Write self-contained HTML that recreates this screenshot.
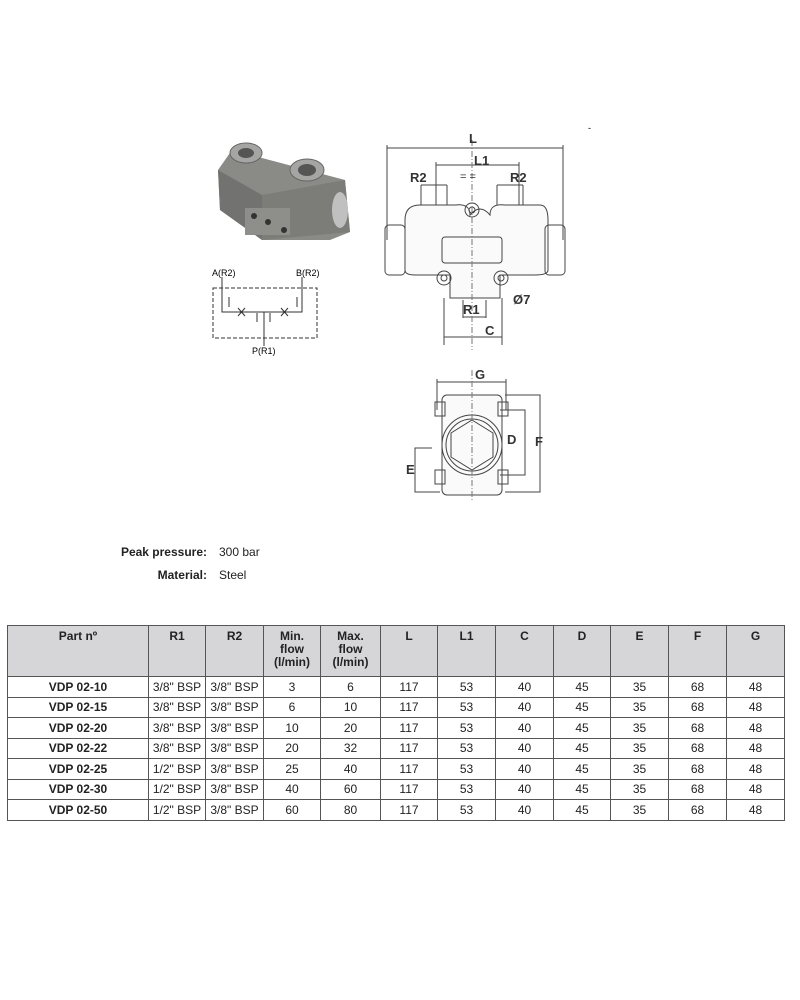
<!DOCTYPE html>
<html><head><meta charset="utf-8"><style>
body{margin:0;width:800px;height:1000px;background:#fff;font-family:"Liberation Sans",sans-serif;position:relative;overflow:hidden}
.abs{position:absolute}
table{position:absolute;left:7px;top:625px;border-collapse:collapse;font-size:12px;color:#222}
td{border:1px solid #555;text-align:center;padding:0;height:19.5px;line-height:14px}
tr.h td{background:#d6d6d8;font-weight:bold;vertical-align:top;height:46px;padding-top:4px;line-height:13px}
td.p{font-weight:bold}
.lab{font-size:12px;color:#222}
</style></head><body>
<div class="abs lab" style="left:60px;top:545px;width:147px;text-align:right;font-weight:bold">Peak pressure:</div>
<div class="abs lab" style="left:219px;top:545px">300 bar</div>
<div class="abs lab" style="left:60px;top:568px;width:147px;text-align:right;font-weight:bold">Material:</div>
<div class="abs lab" style="left:219px;top:568px">Steel</div>

<svg class="abs" style="left:0;top:0" width="800" height="520" font-family="Liberation Sans,sans-serif">
<g>
<path d="M218 170 L232 150 L345 180 L350 232 L330 240 L262 240 L220 210 Z" fill="#8a8a86"/>
<path d="M218 170 L220 210 L262 240 L262 195 Z" fill="#727270"/>
<path d="M262 195 L345 180 L350 232 L262 240 Z" fill="#7c7c78"/>
<ellipse cx="246" cy="153" rx="16" ry="10" fill="#a5a5a3" stroke="#666"/>
<ellipse cx="246" cy="153" rx="8" ry="5" fill="#555"/>
<ellipse cx="307" cy="170" rx="17" ry="11" fill="#a5a5a3" stroke="#666"/>
<ellipse cx="307" cy="170" rx="9" ry="6" fill="#555"/>
<ellipse cx="340" cy="210" rx="8" ry="18" fill="#c0c0c0"/>
<rect x="245" y="208" width="45" height="27" fill="#8e8e8a"/>
<circle cx="254" cy="216" r="3" fill="#333"/><circle cx="268" cy="222" r="3" fill="#333"/><circle cx="284" cy="230" r="3" fill="#333"/>
</g>
<g stroke="#333" fill="none" stroke-width="1">
<rect x="213" y="288" width="104" height="50" stroke-dasharray="4 2"/>
<path d="M222 277 V312 H302 V277"/>
<path d="M264 312 V346"/>
<path d="M229 307 V297 M297 307 V297 M257 313 V322 M270 313 V322"/>
<path d="M238 308 L245 316 M245 308 L238 316 M281 308 L288 316 M288 308 L281 316"/>
</g>
<text x="212" y="276" font-size="9">A(R2)</text>
<text x="296" y="276" font-size="9">B(R2)</text>
<text x="252" y="354" font-size="9">P(R1)</text>
<g stroke="#444" fill="none" stroke-width="1">
<path d="M387 148 H563 M387 145 V240 M563 145 V240"/>
<path d="M436 165 H519 M436 162 V210 M519 162 V210"/>
<path d="M421 185 V210 M447 185 V210 M497 185 V210 M523 185 V210 M421 185 H447 M497 185 H523"/>
<path d="M405 220 Q405 205 420 205 H455 Q470 203 470 215 Q480 203 490 215 Q490 203 505 205 H540 Q548 205 548 220 V270 Q548 275 535 275 H500 V298 H450 V275 H415 Q405 275 405 270 Z" fill="#fafafa"/>
<rect x="385" y="225" width="20" height="50" rx="4"/>
<rect x="545" y="225" width="20" height="50" rx="4"/>
<rect x="442" y="237" width="60" height="26" rx="3"/>
<circle cx="472" cy="210" r="7"/><circle cx="472" cy="210" r="3"/>
<circle cx="444" cy="278" r="7"/><circle cx="444" cy="278" r="3"/>
<circle cx="501" cy="278" r="7"/><circle cx="501" cy="278" r="3"/>
<path d="M463 300 V318 M486 300 V318 M463 317 H486"/>
<path d="M444 298 V345 M502 298 V345 M444 337 H502"/>
<path d="M472 140 V350" stroke-dasharray="6 2 1 2" stroke="#777"/>
</g>
<text x="469" y="143" font-size="13" font-weight="bold" fill="#333">L</text>
<text x="474" y="165" font-size="13" font-weight="bold" fill="#333">L1</text>
<text x="410" y="182" font-size="13" font-weight="bold" fill="#333">R2</text>
<text x="510" y="182" font-size="13" font-weight="bold" fill="#333">R2</text>
<text x="463" y="314" font-size="13" font-weight="bold" fill="#333">R1</text>
<text x="485" y="335" font-size="13" font-weight="bold" fill="#333">C</text>
<text x="513" y="304" font-size="13" font-weight="bold" fill="#333">Ø7</text>
<text x="460" y="180" font-size="11" fill="#333">= =</text>
<g stroke="#444" fill="none" stroke-width="1">
<path d="M437 382 H506 M437 379 V410 M506 379 V410"/>
<rect x="442" y="395" width="60" height="100" rx="5" fill="#fafafa"/>
<rect x="435" y="402" width="10" height="14"/><rect x="498" y="402" width="10" height="14"/>
<rect x="435" y="470" width="10" height="14"/><rect x="498" y="470" width="10" height="14"/>
<circle cx="472" cy="445" r="30"/><circle cx="472" cy="445" r="26"/>
<path d="M472 420 L493 433 V457 L472 470 L451 457 V433 Z"/>
<path d="M500 410 H525 V475 H500 M505 395 H540 V492 H505 M432 448 H415 V492 H440"/>
<path d="M472 370 V500" stroke-dasharray="6 2 1 2" stroke="#777"/>
</g>
<text x="475" y="379" font-size="13" font-weight="bold" fill="#333">G</text>
<text x="507" y="444" font-size="13" font-weight="bold" fill="#333">D</text>
<text x="535" y="446" font-size="13" font-weight="bold" fill="#333">F</text>
<text x="406" y="474" font-size="13" font-weight="bold" fill="#333">E</text>
<text x="588" y="131" font-size="9">-</text>
</svg>

<table>
<colgroup><col style="width:141px"><col style="width:57px"><col style="width:58px"><col style="width:57px"><col style="width:60px"><col style="width:57px"><col style="width:58px"><col style="width:58px"><col style="width:57px"><col style="width:58px"><col style="width:58px"><col style="width:58px"></colgroup>
<tr class="h"><td>Part nº</td><td>R1</td><td>R2</td><td>Min.<br>flow<br>(l/min)</td><td>Max.<br>flow<br>(l/min)</td><td>L</td><td>L1</td><td>C</td><td>D</td><td>E</td><td>F</td><td>G</td></tr>
<tr><td class="p">VDP 02-10</td><td>3/8" BSP</td><td>3/8" BSP</td><td>3</td><td>6</td><td>117</td><td>53</td><td>40</td><td>45</td><td>35</td><td>68</td><td>48</td></tr>
<tr><td class="p">VDP 02-15</td><td>3/8" BSP</td><td>3/8" BSP</td><td>6</td><td>10</td><td>117</td><td>53</td><td>40</td><td>45</td><td>35</td><td>68</td><td>48</td></tr>
<tr><td class="p">VDP 02-20</td><td>3/8" BSP</td><td>3/8" BSP</td><td>10</td><td>20</td><td>117</td><td>53</td><td>40</td><td>45</td><td>35</td><td>68</td><td>48</td></tr>
<tr><td class="p">VDP 02-22</td><td>3/8" BSP</td><td>3/8" BSP</td><td>20</td><td>32</td><td>117</td><td>53</td><td>40</td><td>45</td><td>35</td><td>68</td><td>48</td></tr>
<tr><td class="p">VDP 02-25</td><td>1/2" BSP</td><td>3/8" BSP</td><td>25</td><td>40</td><td>117</td><td>53</td><td>40</td><td>45</td><td>35</td><td>68</td><td>48</td></tr>
<tr><td class="p">VDP 02-30</td><td>1/2" BSP</td><td>3/8" BSP</td><td>40</td><td>60</td><td>117</td><td>53</td><td>40</td><td>45</td><td>35</td><td>68</td><td>48</td></tr>
<tr><td class="p">VDP 02-50</td><td>1/2" BSP</td><td>3/8" BSP</td><td>60</td><td>80</td><td>117</td><td>53</td><td>40</td><td>45</td><td>35</td><td>68</td><td>48</td></tr>
</table>
</body></html>
